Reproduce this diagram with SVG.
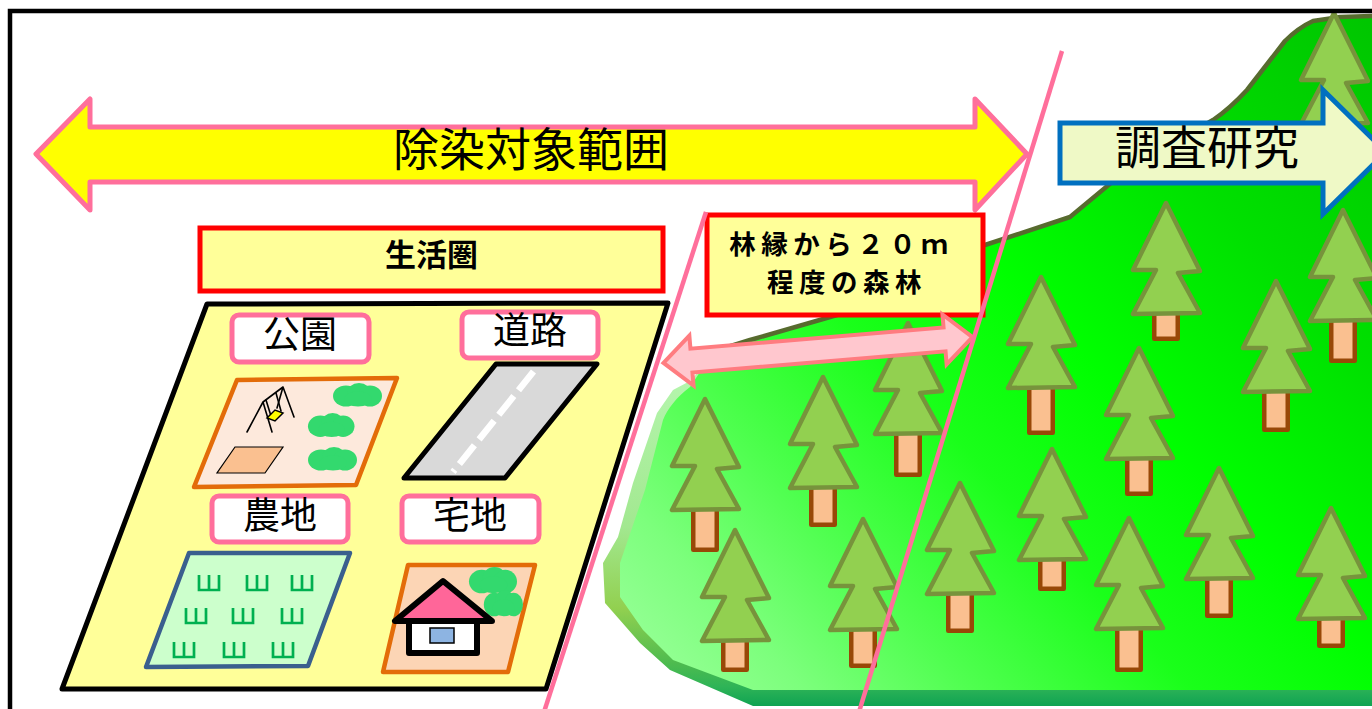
<svg xmlns="http://www.w3.org/2000/svg" xmlns:xlink="http://www.w3.org/1999/xlink" width="1372" height="709" viewBox="0 0 1372 709">
  <style>
    .jp { font-family: "Noto Sans CJK JP", "Noto Sans CJK SC", sans-serif; fill: #000; }
    .crown { fill: #92D050; stroke: #77933C; stroke-width: 4.5; stroke-linejoin: round; }
    .trunk { fill: #FAC090; stroke: #984807; stroke-width: 4.5; stroke-linejoin: round; }
    .lbl { fill: #fff; stroke: #FF6F9B; stroke-width: 5; }
    .bush { fill: #33D96E; }
    .field { fill: none; stroke: #00B050; stroke-width: 2.7; }
    .redbox { fill: #FFFF99; stroke: #FF0000; stroke-width: 5; }
    .border { stroke: #FF6F9B; stroke-width: 4.5; }
  </style>
  <defs>
    <linearGradient id="forestFill" gradientUnits="userSpaceOnUse" x1="1372" y1="0" x2="640" y2="690">
      <stop offset="0" stop-color="#00C400"/>
      <stop offset="0.25" stop-color="#00E000"/>
      <stop offset="0.45" stop-color="#00FF00"/>
      <stop offset="0.6" stop-color="#1AFF1A"/>
      <stop offset="0.76" stop-color="#50FF50"/>
      <stop offset="0.88" stop-color="#7CFF7C"/>
      <stop offset="1" stop-color="#9CFF9C"/>
    </linearGradient>
    <linearGradient id="forestEdge" gradientUnits="userSpaceOnUse" x1="0" y1="380" x2="0" y2="706">
      <stop offset="0" stop-color="#B4F5AC"/>
      <stop offset="0.45" stop-color="#A2E890"/>
      <stop offset="0.7" stop-color="#92D050"/>
      <stop offset="0.87" stop-color="#4DBB4F"/>
      <stop offset="0.94" stop-color="#2FB457"/>
      <stop offset="1" stop-color="#0FA352"/>
    </linearGradient>
    <polygon id="crown" class="crown" points="0,0 -33,67 -10,67 -33,111 34,110 12,70 34,68"/>
    <g id="bushShape" class="bush">
      <ellipse cx="14" cy="13" rx="13" ry="10.5"/>
      <ellipse cx="27" cy="10" rx="12" ry="10"/>
      <ellipse cx="38" cy="13" rx="12" ry="10.5"/>
      <ellipse cx="26" cy="16" rx="14" ry="7.5"/>
    </g>
    <path id="paddy" class="field" d="M0,0 V15 H20 V0 M10,0 V15"/>
  </defs>

  <rect x="0" y="0" width="1372" height="709" fill="#fff"/>

  <!-- forest hill -->
  <g id="forest">
    <path fill="url(#forestEdge)" d="M1372,16 L1340,17 L1313,21 C1300,27 1293,33 1285,41 L1247,90 C1235,103 1225,112 1213,120 L1123,173 L1070,217 L985,245 L900,285 L837,315 L750,340 L718,350 L690,381 L673,390 L657,413 L633,483 L618,537 L603,563 L605,603 L640,643 L670,670 L753,706 L1372,706 Z"/>
    <path fill="url(#forestFill)" d="M1372,16 L1340,17 L1313,21 C1300,27 1293,33 1285,41 L1247,90 C1235,103 1225,112 1213,120 L1123,173 L1070,217 L985,245 L900,285 L837,315 L750,340 L718,350 L700,372 L690,387 C676,398 668,408 663,420 L645,490 L620,563 L620,597 L643,630 L673,660 L753,690 L1372,690 Z"/>
    <path fill="none" stroke="#576B2E" stroke-width="4.5" stroke-linejoin="round" stroke-linecap="round" d="M1372,16 L1340,17 L1313,21 C1300,27 1293,33 1285,41 L1247,90 C1235,103 1225,112 1213,120 L1123,173 L1070,217 L985,245 L900,285 L837,315 L750,340 L718,350"/>
  </g>

  <!-- trees -->
  <g id="trees">
    <g transform="translate(1334,13)"><rect class="trunk" x="-11.75" y="100" width="23.5" height="47.75"/><use xlink:href="#crown"/></g>
    <g transform="translate(1166,203)"><rect class="trunk" x="-11.75" y="100" width="23.5" height="35.75"/><use xlink:href="#crown"/></g>
    <g transform="translate(1343,210)"><rect class="trunk" x="-11.75" y="100" width="23.5" height="50.75"/><use xlink:href="#crown"/></g>
    <g transform="translate(1041,277)"><rect class="trunk" x="-11.75" y="100" width="23.5" height="55.75"/><use xlink:href="#crown"/></g>
    <g transform="translate(1276,281)"><rect class="trunk" x="-11.75" y="100" width="23.5" height="48.75"/><use xlink:href="#crown"/></g>
    <g transform="translate(908,323)"><rect class="trunk" x="-11.75" y="100" width="23.5" height="51.75"/><use xlink:href="#crown"/></g>
    <g transform="translate(1139,348)"><rect class="trunk" x="-11.75" y="100" width="23.5" height="45.75"/><use xlink:href="#crown"/></g>
    <g transform="translate(823,377)"><rect class="trunk" x="-11.75" y="100" width="23.5" height="47.75"/><use xlink:href="#crown"/></g>
    <g transform="translate(705,399)"><rect class="trunk" x="-11.75" y="100" width="23.5" height="50.75"/><use xlink:href="#crown"/></g>
    <g transform="translate(1052,449)"><rect class="trunk" x="-11.75" y="100" width="23.5" height="39.75"/><use xlink:href="#crown"/></g>
    <g transform="translate(1219,468)"><rect class="trunk" x="-11.75" y="100" width="23.5" height="47.75"/><use xlink:href="#crown"/></g>
    <g transform="translate(960,483)"><rect class="trunk" x="-11.75" y="100" width="23.5" height="47.75"/><use xlink:href="#crown"/></g>
    <g transform="translate(1331,508)"><rect class="trunk" x="-11.75" y="100" width="23.5" height="37.75"/><use xlink:href="#crown"/></g>
    <g transform="translate(1129,518)"><rect class="trunk" x="-11.75" y="100" width="23.5" height="51.75"/><use xlink:href="#crown"/></g>
    <g transform="translate(863,519)"><rect class="trunk" x="-11.75" y="100" width="23.5" height="46.75"/><use xlink:href="#crown"/></g>
    <g transform="translate(735,530)"><rect class="trunk" x="-11.75" y="100" width="23.5" height="39.75"/><use xlink:href="#crown"/></g>
  </g>

  <!-- research arrow -->
  <g id="research">
    <polygon points="1060,123 1323,123 1323,90 1386,152 1323,214 1323,183 1060,183" fill="#EFF9C6" stroke="#0070C0" stroke-width="5"/>
    <text class="jp" x="1207" y="163.5" font-size="46" text-anchor="middle">調査研究</text>
  </g>

  <!-- decontamination range arrow -->
  <g id="decon-range">
    <polygon points="36,154 90,99 90,127 975,127 975,99 1027,154 975,210 975,182 90,182 90,210" fill="#FFFF00" stroke="#FF6F9B" stroke-width="5" stroke-linejoin="round"/>
    <text class="jp" x="531" y="166" font-size="46" text-anchor="middle">除染対象範囲</text>
  </g>

  <!-- living area -->
  <g id="living-title">
    <rect class="redbox" x="200" y="228" width="463" height="63"/>
    <text class="jp" x="431.5" y="266" font-size="31" font-weight="bold" text-anchor="middle">生活圏</text>
  </g>
  <g id="living-area">
    <polygon points="207,304 668,303 546,689 62,689" fill="#FFFF99" stroke="#000" stroke-width="5" stroke-linejoin="round"/>
  </g>

  <g id="park">
    <rect class="lbl" x="232" y="315" width="137" height="47" rx="7"/>
    <text class="jp" x="300" y="347.5" font-size="37" text-anchor="middle">公園</text>
    <polygon points="237,380 397,378 356,485 194,487" fill="#FDE9DC" stroke="#E36C09" stroke-width="4.5" stroke-linejoin="round"/>
    <polygon points="235,447 283,447 265,473 217,473" fill="#FAC090" stroke="#000" stroke-width="1.2"/>
    <g fill="none" stroke="#000" stroke-width="1.6" stroke-linecap="round">
      <path d="M263,402 L283,387 M263,402 L247,432 M263,402 L272,432 M283,387 L294,417 M283,387 L277,408"/>
      <path d="M266,400 L271,416 M276,393 L281,411"/>
    </g>
    <polygon points="267,418 275,410 283,413 275,421" fill="#FFFF00" stroke="#000" stroke-width="1.5"/>
    <use xlink:href="#bushShape" transform="translate(332,383)"/>
    <use xlink:href="#bushShape" transform="translate(307,413) scale(0.95,1.02)"/>
    <use xlink:href="#bushShape" transform="translate(307,447)"/>
  </g>

  <g id="road">
    <rect class="lbl" x="462" y="312" width="136" height="46" rx="7"/>
    <text class="jp" x="530" y="343.5" font-size="37" text-anchor="middle">道路</text>
    <polygon points="496,364 597,364 505,478 404,478" fill="#D9D9D9" stroke="#000" stroke-width="5" stroke-linejoin="round"/>
    <line x1="533.5" y1="371.5" x2="453" y2="472" stroke="#fff" stroke-width="6.5" stroke-dasharray="24 7.5"/>
  </g>

  <g id="farmland">
    <rect class="lbl" x="212" y="496" width="136" height="46" rx="7"/>
    <text class="jp" x="280" y="529" font-size="37" text-anchor="middle">農地</text>
    <polygon points="189,553 350,553 308,666 146,667" fill="#CCFFCC" stroke="#3A5F8E" stroke-width="4.5" stroke-linejoin="round"/>
    <use xlink:href="#paddy" x="199" y="575"/>
    <use xlink:href="#paddy" x="247" y="575"/>
    <use xlink:href="#paddy" x="292" y="575"/>
    <use xlink:href="#paddy" x="186" y="608"/>
    <use xlink:href="#paddy" x="233" y="608"/>
    <use xlink:href="#paddy" x="282" y="608"/>
    <use xlink:href="#paddy" x="174" y="642"/>
    <use xlink:href="#paddy" x="224" y="642"/>
    <use xlink:href="#paddy" x="273" y="642"/>
  </g>

  <g id="residential">
    <rect class="lbl" x="402" y="496" width="137" height="46" rx="7"/>
    <text class="jp" x="470" y="529" font-size="37" text-anchor="middle">宅地</text>
    <polygon points="408,565 535,565 508,672 383,672" fill="#FCD5B5" stroke="#E36C09" stroke-width="4.5" stroke-linejoin="round"/>
    <use xlink:href="#bushShape" transform="translate(468,567) scale(0.98,1.12)"/>
    <use xlink:href="#bushShape" transform="translate(483,590) scale(0.8,1.12)"/>
    <rect x="409" y="621" width="68" height="32" fill="#fff" stroke="#000" stroke-width="6" stroke-linejoin="round"/>
    <rect x="430" y="628" width="24" height="15" fill="#8DB4E2" stroke="#000" stroke-width="1.5"/>
    <polygon points="443,581 395,621 492,621" fill="#FF6699" stroke="#000" stroke-width="6" stroke-linejoin="round"/>
  </g>

  <!-- forest edge band -->
  <g id="edge-forest">
    <rect class="redbox" x="707" y="215" width="276" height="100"/>
    <text class="jp" font-size="26.5" font-weight="bold" letter-spacing="5.5" text-anchor="middle">
      <tspan x="847" y="253.5">林縁から２０ｍ</tspan>
      <tspan x="847" y="292">程度の森林</tspan>
    </text>
  </g>

  <!-- connectors -->
  <g id="connectors">
    <polygon transform="translate(818,350) rotate(-4.8)" points="-155,0 -127,-25 -127,-12 127,-12 127,-25 155,0 127,25 127,12 -127,12 -127,25" fill="#FFC7CE" stroke="#FF7C80" stroke-width="4"/>
    <line class="border" x1="706" y1="212" x2="544" y2="712"/>
    <line class="border" x1="1062" y1="51" x2="859" y2="712"/>
  </g>

  <!-- outer frame -->
  <rect x="10" y="11" width="1400" height="720" fill="none" stroke="#000" stroke-width="4.5"/>
</svg>
